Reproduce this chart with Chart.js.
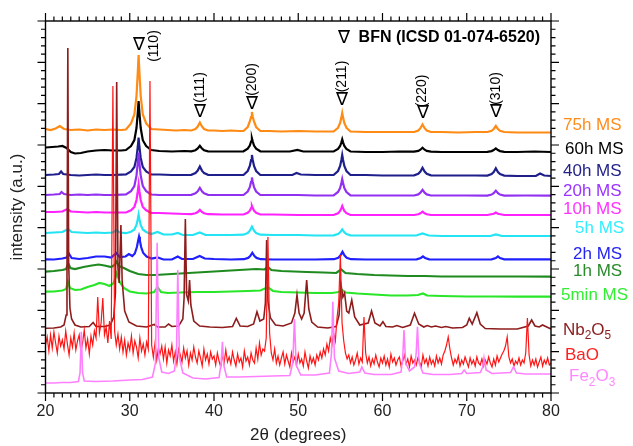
<!DOCTYPE html>
<html><head><meta charset="utf-8">
<script src="https://cdn.jsdelivr.net/npm/chart.js@4.4.1/dist/chart.umd.min.js"></script>
<style>html,body{margin:0;padding:0;background:#fff;}canvas{display:block;}</style>
</head><body>
<canvas id="c" width="633" height="446"></canvas>
<script>
const FONT = "'Liberation Sans', Arial, Helvetica, sans-serif";

// ---- data: [2theta (deg), intensity (a.u., offset-stacked)] ----
const thetaTicks = [20, 30, 40, 50, 60, 70, 80];

const ms75h = [[20,264],[20.6,263],[21.2,264.5],[21.7,267],[22.2,264],[23,263],[24,263.5],[25,262.5],[26,263.5],[27,263],[28,263.5],[29,263],[29.55,263.5],[30.15,269.5],[30.55,278.5],[30.8,297],[30.95,320],[31.05,338],[31.15,320],[31.3,297],[31.55,278.5],[31.95,269.5],[32.55,264],[33.5,263.5],[34.5,263],[35.5,262.5],[36.5,263],[37.3,262.5],[37.8,264],[38.07,266.5],[38.32,270.5],[38.57,266.5],[38.82,264],[39.3,262.5],[40,262.5],[41,262],[42,262.5],[43,262],[43.5,262],[44.0,266],[44.25,271.5],[44.4,276],[44.5,281],[44.6,276],[44.75,271.5],[45.0,266],[45.5,262],[46.5,262],[48,261.5],[50,262],[52,261.5],[53.5,261.5],[54.2,261.5],[54.72,265.2],[54.97,270],[55.12,275.4],[55.22,280],[55.32,275.4],[55.47,270],[55.72,265.2],[56.2,261.5],[58,261],[60,261],[62,261],[63.75,261],[64.25,262.5],[64.5,264.8],[64.75,268.5],[65.0,264.8],[65.25,262.5],[65.75,261],[67,261],[69,260.5],[71,261],[72.45,261],[72.95,262.2],[73.2,264],[73.45,267],[73.7,264],[73.95,262.2],[74.45,261],[76,260.5],[78,260.5],[80,260.5]];

const ms60h = [[20,245.5],[20.8,246],[21.5,246.5],[22,247],[22.5,245],[23,241],[23.5,239.5],[24.2,240],[25,241.5],[26,242.5],[27,243],[28,242.5],[29,242.5],[29.55,243],[30.15,247],[30.55,253],[30.8,265],[30.95,280],[31.05,292],[31.15,280],[31.3,265],[31.55,252.8],[31.95,247],[32.55,243],[33.5,242],[35,241.5],[36.5,242],[37.3,241.7],[37.8,242.8],[38.07,244.5],[38.32,247.2],[38.57,244.5],[38.82,242.8],[39.3,241.7],[41,241.5],[42.5,241.5],[43.5,241.7],[44.0,244.3],[44.25,247.5],[44.4,251.5],[44.5,254.7],[44.6,251.5],[44.75,247.5],[45.0,244.3],[45.5,241.7],[47,241.5],[49,241.5],[49.9,243],[50.6,241.5],[52,241.5],[54.2,241.5],[54.72,244],[54.97,247],[55.12,250.7],[55.22,253.7],[55.32,250.7],[55.47,247],[55.72,244],[56.2,241.5],[58,241],[60,241],[62,241.5],[63.75,241.3],[64.25,242.1],[64.5,243.3],[64.75,245.3],[65.0,243.3],[65.25,242.1],[65.75,241.3],[67,241],[69,241],[71,241],[72.45,241.2],[72.95,241.9],[73.2,243],[73.45,244.7],[73.7,243],[73.95,241.9],[74.45,241.2],[76,241],[78,241.5],[80,241]];

const ms40h = [[20,218],[21,218.5],[21.6,219],[21.85,221.5],[22.1,219],[23,218],[24,217.5],[25,218],[26,218.5],[27,218],[28,218],[29,218.3],[29.55,218.5],[30.15,221.5],[30.55,226],[30.8,235],[30.95,246],[31.05,255.5],[31.15,246],[31.3,235],[31.55,226],[31.95,221.5],[32.55,218.5],[33.5,218.5],[35,218],[36.5,218],[37.3,218.2],[37.8,219.9],[38.07,222.4],[38.32,226.5],[38.57,222.4],[38.82,219.9],[39.3,218.2],[41,218],[42.5,218],[43.5,218],[44.0,222],[44.25,227],[44.4,233],[44.5,238],[44.6,233],[44.75,227],[45.0,222],[45.5,218],[47,218],[49.3,218],[49.8,220],[50.3,218.5],[52,218],[54.2,218],[54.72,222],[54.97,227],[55.12,233],[55.22,238],[55.32,233],[55.47,227],[55.72,222],[56.2,218],[58,218],[60,217.5],[62,217.5],[63.75,217.7],[64.25,219.2],[64.5,221.5],[64.75,225.2],[65.0,221.5],[65.25,219.2],[65.75,217.7],[67,217.5],[69,217.5],[71,217.5],[72.45,217.4],[72.95,218.9],[73.2,221],[73.45,224.7],[73.7,221],[73.95,218.9],[74.45,217.4],[76,217],[78.2,217],[78.7,219.5],[79.2,217.5],[80,217]];

const ms20h = [[20,198],[21,198.5],[21.7,199],[21.9,201],[22.2,199],[23,198],[24,198.5],[25,198],[26,198.5],[27,198],[28,198],[29,198.3],[29.55,198.5],[30.15,201.9],[30.55,207],[30.8,217.4],[30.95,230],[31.05,240.5],[31.15,230],[31.3,217.4],[31.55,207],[31.95,201.9],[32.55,198.5],[33.5,198],[35,198],[36.5,198],[37.3,198.2],[37.8,199.6],[38.07,201.7],[38.32,205.2],[38.57,201.7],[38.82,199.6],[39.3,198.2],[41,198],[42.5,198],[43.5,198],[44.0,201.5],[44.25,205.9],[44.4,211.1],[44.5,215.5],[44.6,211.1],[44.75,205.9],[45.0,201.5],[45.5,198],[47,198],[50,198],[52,197.5],[54.2,197.7],[54.72,201],[54.97,205],[55.12,210],[55.22,214],[55.32,210],[55.47,205],[55.72,201],[56.2,197.7],[58,197.5],[60,197.5],[62,197.5],[63.75,197.5],[64.25,198.6],[64.5,200.3],[64.75,203.1],[65.0,200.3],[65.25,198.6],[65.75,197.5],[67,197.5],[70,197.5],[72.45,197.4],[72.95,198.4],[73.2,199.9],[73.45,202.4],[73.7,199.9],[73.95,198.4],[74.45,197.4],[77,197.5],[80,197.3]];

const ms10h = [[20,181],[21,181],[22,181.5],[22.6,184],[23,181.5],[24,181],[25,180.5],[26,181],[27,180.5],[28,180.5],[29,180.5],[29.55,180.5],[30.15,182.7],[30.55,186.1],[30.8,193],[30.95,201.5],[31.05,208.5],[31.15,201.5],[31.3,193],[31.55,186.1],[31.95,182.7],[32.55,180],[33.5,180],[35,179.5],[36.5,179],[37.3,178.8],[37.8,179.7],[38.07,181],[38.32,183.1],[38.57,181],[38.82,179.7],[39.3,178.8],[41,178.5],[42.5,178.5],[43.5,178.5],[44.0,180.2],[44.25,182.3],[44.4,184.9],[44.5,187],[44.6,184.9],[44.75,182.3],[45.0,180.2],[45.5,178.5],[47,178.5],[50,178],[52,178],[54.2,178],[54.72,179.8],[54.97,182],[55.12,184.8],[55.22,187],[55.32,184.8],[55.47,182],[55.72,179.8],[56.2,178],[58,178],[60,178],[62,178],[63.75,178],[64.25,178.7],[64.5,179.7],[64.75,181.3],[65.0,179.7],[65.25,178.7],[65.75,178],[67,178],[70,178],[72.45,178],[73.2,179.2],[73.45,180.5],[73.7,179.2],[74.45,178],[77,178],[80,178]];

const ms5h = [[20,160],[21,160.5],[22,161],[22.7,164],[23.1,161],[24,160.5],[25,160],[26,160.5],[27,160],[28,160.5],[28.4,163],[28.8,160.5],[29.55,159.8],[30.15,161.3],[30.55,163.5],[30.8,168.1],[30.95,173.7],[31.05,178.3],[31.15,173.7],[31.3,168.1],[31.55,163.5],[31.95,161],[32.55,159],[33.3,161],[34,158.5],[35,158.5],[35.7,160],[36.3,158],[37.5,158],[38.32,160.5],[39,158],[40,158],[42,158],[43.5,158.3],[44.0,159.9],[44.25,162.3],[44.5,166.3],[44.75,162.3],[45.0,159.9],[45.5,158.3],[47,158],[50,158],[52,157.5],[54.2,157.7],[54.72,158.9],[54.97,160.7],[55.22,163.7],[55.47,160.7],[55.72,158.9],[56.2,157.7],[58,157.5],[60,157.5],[62,157.5],[64.0,157.5],[64.75,159.5],[65.5,157.5],[67,157],[70,157],[72.8,157],[73.45,158.5],[74.2,157],[77,157],[80,157]];

const ms2h = [[20,133.7],[21,133.5],[22,134.5],[22.5,135.5],[22.8,139],[23.1,135],[24,134],[25,135],[26,136.5],[27,136.5],[27.8,135.5],[28.4,140],[28.8,136],[29.5,136.5],[29.9,139],[30.3,137],[30.6,139.5],[30.85,146],[31.0,152.5],[31.1,156.3],[31.2,152.5],[31.35,146],[31.6,140],[32,136.5],[32.6,134.5],[33.3,135.5],[34,133.5],[35,133.5],[35.7,136.5],[36.2,134],[37.5,134],[38.3,137],[38.9,134.5],[40,134],[42,133.5],[43.55,133.8],[44.05,135.1],[44.3,137],[44.55,140.3],[44.8,137],[45.05,135.1],[45.55,133.8],[47,133.5],[50,133.5],[52,133.5],[54.25,133.8],[54.75,135.3],[55.0,137.5],[55.25,141.3],[55.5,137.5],[55.75,135.3],[56.25,133.8],[58,133.5],[60,133.5],[62,133.5],[64.05,133.6],[64.55,135],[64.8,136.6],[65.05,135],[65.55,133.6],[67,133.5],[70,133.5],[72.95,133.7],[73.45,135],[73.7,136.7],[73.95,135],[74.45,133.7],[77,133.7],[80,133.7]];

const ms1h = [[20,121.3],[21,122],[22,123],[22.45,124],[22.7,129.7],[22.95,125],[23.5,124],[24.5,126],[25.5,127.5],[26.3,128.5],[27,127.5],[27.8,126],[28.2,128],[28.45,131.3],[28.7,127],[29.3,125],[30,122],[31,119],[32,118],[33,118],[34,118.5],[35,119],[36,119.5],[37,120],[38,120.5],[39,121],[40,121.5],[41,122],[42,122.5],[43,123],[44,123.5],[45,124],[46,123.5],[46.4,126],[46.8,123],[48,122],[49.5,121.5],[51,121],[53,120.5],[54.5,120],[55.1,123.5],[55.6,120],[57,119],[59,118],[61,117.5],[63,117],[65,117],[67,116.5],[70,116.5],[73,116.5],[76,116.5],[80,116.3]];

const ms5min = [[20,101.3],[21,101.5],[22,102.5],[22.45,104],[22.65,111.3],[22.9,105],[23.5,103],[24.2,103.5],[25,106],[25.8,108],[26.4,110],[27,109],[27.6,107],[28.1,110],[28.45,119.7],[28.8,111],[29.3,105],[30,101.5],[31,100],[32,99.5],[32.9,101],[33.3,106],[33.7,101],[34.5,100],[36,100.5],[38,101],[40,101],[42,101.5],[44,102],[45.5,102.5],[46.4,105.7],[47,102],[48,101],[50,100.5],[52,100],[54,100],[54.8,101],[55.2,103],[55.6,100.5],[57,99.5],[59,98.5],[61,97.5],[63,97.5],[64.2,98],[64.8,99.5],[65.3,97.5],[67,97],[70,96.5],[73,96.5],[76,96.3],[80,96.3]];

const nb2o5 = [[20,64.7],[21,65],[21.8,66],[22.2,68],[22.45,78],[22.55,120],[22.65,345],[22.75,130],[22.9,85],[23.1,74],[23.5,68],[24.2,66],[25.2,66.5],[25.65,70.5],[26,66.5],[27,66.5],[27.7,68],[28.1,76],[28.3,100],[28.45,311],[28.6,125],[28.75,110],[28.95,168],[29.1,112],[29.4,82],[29.9,71],[30.8,67],[32,66],[32.9,68.5],[33.3,66],[34.2,66],[34.6,69],[35,66.5],[35.8,67],[36.3,74],[36.45,95],[36.6,174],[36.75,98],[36.95,92],[37.1,113],[37.25,88],[37.6,72],[38.3,67],[39.5,66],[41,65.5],[42.2,66.5],[42.65,74.7],[43.1,67],[44,66.5],[44.7,69],[45.1,81.3],[45.45,72],[45.9,74],[46.1,90],[46.25,153],[46.4,92],[46.7,75],[47.3,68],[48.2,67],[49.2,70],[49.6,80],[49.85,98],[50.1,80],[50.4,74],[50.7,80],[51,113],[51.25,84],[51.6,71],[52.3,66],[53.5,65],[54.5,66.5],[54.85,78],[55.05,109.7],[55.3,96],[55.5,100],[55.75,82],[56,80],[56.35,93],[56.7,76],[57.3,68],[58.3,70],[58.7,82],[59.1,70],[59.7,67],[60.05,71.3],[60.4,66.5],[61.2,66],[61.7,67.5],[62.4,65.5],[63.3,68],[63.8,79.7],[64.3,69],[64.9,66],[65.3,67.5],[65.8,66],[66.3,67],[67,65.5],[67.5,66.5],[68.3,65],[69.5,65.5],[70,68],[70.3,74.7],[70.65,69],[71.2,80.3],[71.6,69],[72.2,64.5],[74,64],[76,64],[77.3,67],[77.7,73],[78.1,67],[78.6,66],[79,68],[79.5,66],[80,64]];

// BaO: measured on a uniform 0.2 deg grid starting at 20 deg
const baoStart = 20, baoStep = 0.2;
const baoIntensity = [
 48,56,42,58,45,61,50,40,57,47,
 53,44,62,49,38,55,46,60,43,52,
 58,41,50,63,45,54,39,57,48,62,
 55,96,60,70,95,58,66,50,72,54,
 307,62,48,59,44,56,41,53,38,50,
 43,57,40,52,46,35,55,42,49,38,
 51,44,312,48,36,50,33,45,39,47,
 34,46,30,43,37,48,32,41,29,44,
 38,31,45,35,42,28,40,33,46,36,
 30,42,35,27,44,33,39,29,41,34,
 37,28,40,32,26,38,30,43,31,36,
 29,41,33,27,39,31,35,26,42,32,
 36,28,40,33,30,45,34,50,38,44,
 42,55,156,60,40,33,44,30,37,28,
 35,41,29,38,32,26,40,31,36,28,
 39,30,34,27,41,32,25,37,30,35,
 28,38,33,41,35,44,38,49,42,55,
 48,60,52,75,90,138,70,52,40,34,
 38,30,36,28,33,40,29,35,31,76,
 40,30,36,27,34,29,38,31,26,35,
 30,37,28,34,26,39,31,35,28,33,
 36,27,32,38,29,34,26,37,30,33,
 28,35,31,26,38,30,34,27,36,29,
 33,27,37,30,35,29,38,42,48,56,
 44,35,28,34,30,37,27,33,29,36,
 31,26,35,29,33,27,36,30,28,34,
 27,33,29,36,30,26,34,28,37,31,
 35,39,42,47,56,36,30,34,27,32,
 29,35,28,33,30,40,75,38,27,33,
 28,34,26,31,36,27,33,29,35,28,
 30];

const fe2o3 = [[20,10],[21,10],[22,10.5],[23,10.5],[23.9,11.5],[24.1,20],[24.25,61.3],[24.4,20],[24.6,12],[26,11.5],[28,12],[30,13],[31.5,13.5],[32.7,16],[33.05,30],[33.25,150.3],[33.45,35],[33.8,21],[34.6,19.5],[35.3,22],[35.55,40],[35.7,123],[35.9,35],[36.3,20],[37.5,15],[39,14],[40.6,15.5],[40.85,30],[41,51.3],[41.15,28],[41.5,16],[43,16],[45,16.5],[47,17],[49,17.5],[49.35,30],[49.55,74],[49.75,28],[50.3,18],[52,18],[53.7,20],[53.95,40],[54.1,91.3],[54.3,35],[54.8,22],[56,19.5],[57.3,21],[57.55,26],[57.9,20],[59,18.5],[61,18.5],[62.2,21],[62.4,35],[62.55,63],[62.75,30],[63.2,22],[63.8,26],[64.0,40],[64.15,66.3],[64.35,30],[64.8,20],[66,18.5],[68,18.5],[69.4,19.5],[69.7,23],[70,19.5],[71.6,20.5],[71.9,26],[72.05,35.3],[72.3,23],[73,19.5],[75.2,20.5],[75.55,26.3],[75.9,20],[77,19],[79,19],[80,19]];

// BFN reflections (2theta) and their hkl labels
const bfnTheta = [31.05, 38.32, 44.5, 55.22, 64.75, 73.45];
const bfnHkl = ['(110)', '(111)', '(200)', '(211)', '(220)', '(310)'];
const seriesLabels = ['75h MS','60h MS','40h MS','20h MS','10h MS','5h MS','2h MS','1h MS','5min MS','Nb2O5','BaO','Fe2O3'];

// ---- styles / layout ----
const Y_MAX = 372;
const colors = ['#ff8a14','#000000','#1f1f8c','#9130f0','#ff22ff','#22e4f2','#1f1fff','#1f8a1f','#28e628','#8e1c1c','#ff1414','#ff80ff'];
const labelColors = ['#ff8c1a','#000000','#22228a','#9933ff','#ff33ff','#33eeff','#2424f0','#2a8a2a','#33ee33','#8b2020','#ff2020','#ff88ff'];
const labelPos = [[563,268],[565,243.7],[563,222],[563,202],[563,183.7],[575,164.7],[573,139],[573,121.3],[561,98],[563,63],[565,38],[569,16.3]];
const peakLabelPos = [ // [triangle y, text y, text dx]
  [348, 347, 16],[281.3, 305.5, 0],[289, 313.5, 0],[293, 316.5, 0],[279.7, 302, 0],[281.3, 304.5, 0]];

const toXY = arr => arr.map(p => ({x: p[0], y: p[1]}));
const baoData = baoIntensity.map((v, i) => ({x: +(baoStart + i * baoStep).toFixed(2), y: v}));

const allSeries = [ms75h, ms60h, ms40h, ms20h, ms10h, ms5h, ms2h, ms1h, ms5min, nb2o5, null, fe2o3];
const widths = [2.2,2.2,2.2,2.2,2.2,2.2,2.2,2.2,2.2,1.6,1.2,1.6];
const orders = [12,11,10,9,8,7,6,5,4,3,2,1];

const datasets = allSeries.map((s, i) => ({
  label: seriesLabels[i],
  data: s ? toXY(s) : baoData,
  borderColor: colors[i],
  backgroundColor: colors[i],
  borderWidth: widths[i],
  pointRadius: 0,
  tension: 0,
  fill: false,
  order: orders[i]
}));

function drawSubText(ctx, parts, x, y, size) {
  let cx = x;
  parts.forEach(([t, sub]) => {
    ctx.font = (sub ? size * 0.7 : size) + 'px ' + FONT;
    ctx.fillText(t, cx, y + (sub ? size * 0.35 : 0));
    cx += ctx.measureText(t).width;
  });
}

const deco = {
  id: 'deco',
  afterDraw(chart) {
    const {ctx, chartArea: a, scales: {x, y}} = chart;
    ctx.save();
    ctx.strokeStyle = '#000';
    ctx.lineWidth = 1.4;
    ctx.strokeRect(a.left, a.top, a.right - a.left, a.bottom - a.top);
    ctx.beginPath();
    for (let v = 20; v <= 80; v++) {
      const px = x.getPixelForValue(v);
      const L = v % 10 === 0 ? 8 : 4.5;
      ctx.moveTo(px, a.bottom); ctx.lineTo(px, a.bottom + L);
      ctx.moveTo(px, a.top); ctx.lineTo(px, a.top - L);
    }
    for (let i = 0; i <= 45; i++) {
      const py = y.getPixelForValue(i * Y_MAX / 45);
      const L = i % 5 === 0 ? 8 : 4.5;
      ctx.moveTo(a.left, py); ctx.lineTo(a.left - L, py);
      ctx.moveTo(a.right, py); ctx.lineTo(a.right + L, py);
    }
    ctx.lineWidth = 1.2;
    ctx.stroke();

    // series labels
    ctx.textBaseline = 'middle';
    ctx.textAlign = 'left';
    seriesLabels.forEach((t, i) => {
      ctx.fillStyle = labelColors[i];
      const lx = labelPos[i][0], ly = y.getPixelForValue(labelPos[i][1]);
      if (t === 'Nb2O5') drawSubText(ctx, [['Nb',0],['2',1],['O',0],['5',1]], lx, ly, 17);
      else if (t === 'Fe2O3') drawSubText(ctx, [['Fe',0],['2',1],['O',0],['3',1]], lx, ly, 17);
      else { ctx.font = '17px ' + FONT; ctx.fillText(t, lx, ly); }
    });

    // BFN legend
    ctx.fillStyle = '#000';
    ctx.font = '18px ' + FONT;
    ctx.textAlign = 'center';
    ctx.fillText('\u2207', 344, y.getPixelForValue(355));
    ctx.font = 'bold 16px ' + FONT;
    ctx.textAlign = 'right';
    ctx.fillText('BFN (ICSD 01-074-6520)', 540, y.getPixelForValue(355));

    // peak labels
    bfnTheta.forEach((th, i) => {
      const px = x.getPixelForValue(th);
      const [ty, tty, dx] = peakLabelPos[i];
      ctx.font = '18px ' + FONT;
      ctx.textAlign = 'center';
      ctx.fillText('\u2207', px, y.getPixelForValue(ty));
      ctx.save();
      ctx.translate(px + dx, y.getPixelForValue(tty));
      ctx.rotate(-Math.PI / 2);
      ctx.font = '14px ' + FONT;
      ctx.fillText(bfnHkl[i], 0, 0);
      ctx.restore();
    });
    ctx.restore();
  }
};

new Chart(document.getElementById('c'), {
  type: 'line',
  data: {datasets},
  options: {
    responsive: false,
    animation: false,
    events: [],
    layout: {padding: {top: 21, right: 82, left: 0, bottom: 0}},
    plugins: {legend: {display: false}, tooltip: {enabled: false}},
    scales: {
      x: {
        type: 'linear', min: 20, max: 80,
        afterBuildTicks: s => { s.ticks = thetaTicks.map(v => ({value: v})); },
        afterFit: s => { s.height = 53; },
        grid: {display: false, drawTicks: false},
        border: {display: false},
        ticks: {font: {size: 16, family: FONT}, color: '#222', padding: 9, maxRotation: 0},
        title: {display: true, text: '2\u03b8 (degrees)', font: {size: 17, family: FONT}, color: '#222', padding: {top: 0, bottom: 0}}
      },
      y: {
        type: 'linear', min: 0, max: Y_MAX,
        afterFit: s => { s.width = 45.5; },
        grid: {display: false, drawTicks: false},
        border: {display: false},
        ticks: {display: false},
        title: {display: true, text: 'intensity (a.u.)', font: {size: 17, family: FONT}, color: '#222', padding: {top: 7, bottom: 0}}
      }
    }
  },
  plugins: [deco]
});
</script>
</body></html>
